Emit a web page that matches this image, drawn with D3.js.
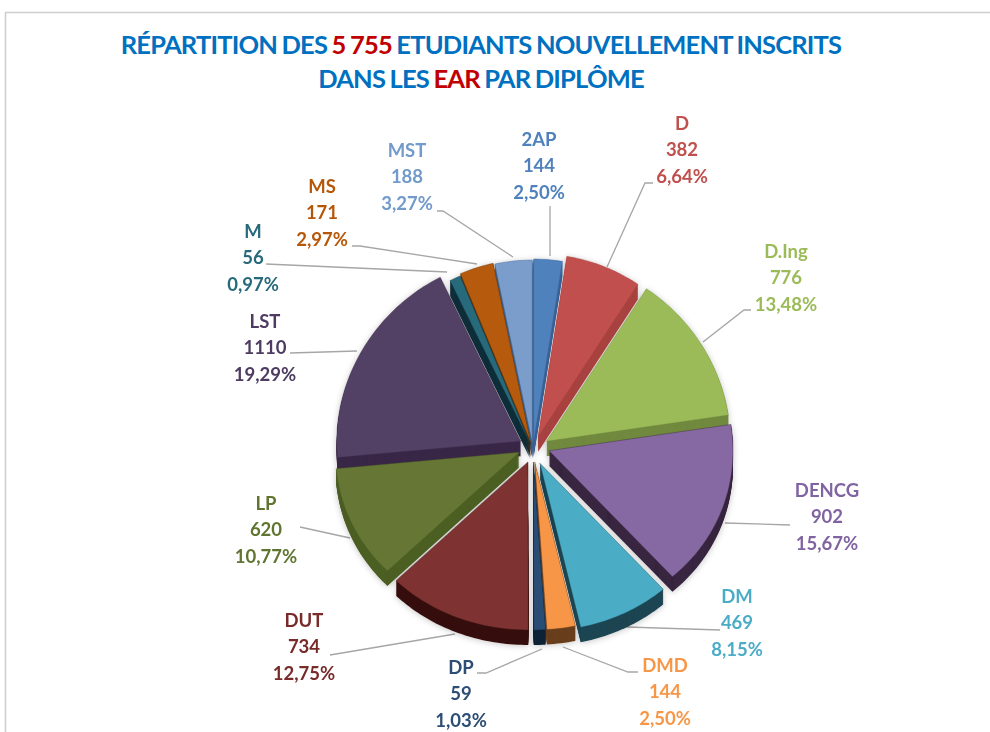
<!DOCTYPE html>
<html><head><meta charset="utf-8">
<script src="https://cdn.jsdelivr.net/npm/d3@7"></script>
<style>html,body{margin:0;padding:0;background:#fff;overflow:hidden}svg{display:block}</style>
</head><body><svg id="c" width="990" height="732"></svg>
<script>
const categories=["2AP","D","D.Ing","DENCG","DM","DMD","DP","DUT","LP","LST","M","MS","MST"];
const counts=[144,382,776,902,469,144,59,734,620,1110,56,171,188];
const percents=["2,50%","6,64%","13,48%","15,67%","8,15%","2,50%","1,03%","12,75%","10,77%","19,29%","0,97%","2,97%","3,27%"];
const faceColors=["#4F81BD","#C0504D","#9BBB59","#8667A3","#4BACC6","#F79646","#2C4D75","#7F3332","#667734","#534065","#276A7C","#B65A10","#7A9DCB"];
const wallColors=["#3A6195","#A8423F","#71893F","#37253F","#1C4552","#683F1D","#0F2236","#36100E","#4C5E22","#3A2747","#0F2E38","#5C3208","#3D5F8B"];
const labelColors=["#4F81BD","#C0504D","#9BBB59","#8064A2","#4BACC6","#F79646","#2C4D75","#772C2A","#5F7530","#4D3B62","#276A7C","#B65708","#729ACA"];
const explosion=[8,14,16,17,15,12,12,13,15,14,6,8,7];
const lift=[0,0,0,5,0,0,0,0,4,2,0,0,0];
const labelCenters=[[539,166],[682,150],[786,278],[827,517],[737,623],[665,692],[461,694],[304,647],[266,530],[265,348],[253,258],[322,213],[407,177]];
const leaders=[
 [[550,206],[550,256]],
 [[653,183],[645,183],[607,267]],
 [[751,310],[744,310],[703,342]],
 [[790,525],[725,523]],
 [[720,630],[627,627]],
 [[638,672],[628,672],[563,647]],
 [[477,673],[486,673],[542,649]],
 [[330,655],[455,634]],
 [[300,527],[350,538]],
 [[290,353],[357,351]],
 [[266,264],[447,272]],
 [[352,246],[360,246],[477,264]],
 [[437,211],[443,211],[513,257]]
];
const cx=533,cy=450,radiusX=184,depth=15;
const svg=d3.select("#c");

const defs=svg.append("defs");
const blur=defs.append("filter").attr("id","soft").attr("x","-10%").attr("y","-10%").attr("width","120%").attr("height","120%");
blur.append("feDropShadow").attr("dx",0).attr("dy",1).attr("stdDeviation",3).attr("flood-color","#000").attr("flood-opacity",0.22);

// frame
svg.append("path").attr("d","M5.5 732V12.5H990").attr("fill","none").attr("stroke","#cfcfcf").attr("stroke-width",1.6);

// title
const title=svg.append("g").attr("font-family","Lato").attr("font-weight",700).attr("font-size",25.5).attr("text-anchor","middle").attr("letter-spacing",-0.8).attr("word-spacing",-1);
const titleLines=[[["RÉPARTITION DES ","#0070C0"],["5 755 ","#C00000"],["ETUDIANTS NOUVELLEMENT INSCRITS","#0070C0"]],[["DANS LES ","#0070C0"],["EAR ","#C00000"],["PAR DIPLÔME","#0070C0"]]];
titleLines.forEach((ln,i)=>{
  const t=title.append("text").attr("x",481).attr("y",[54,88][i]);
  ln.forEach(s=>t.append("tspan").attr("fill",s[1]).text(s[0]));
});

// pie
const pie=d3.pie().sort(null).value(d=>d)(counts);
const project=(a,r)=>{const t=-Math.cos(a)*r;return [Math.sin(a)*r*radiusX,175.5*t-7.5*t*t];};
const line=d3.line();
const slicePath=d=>{
  const n=Math.max(2,Math.ceil((d.endAngle-d.startAngle)/0.02));
  const pts=[[0,0]];
  d3.range(n+1).forEach(i=>pts.push(project(d.startAngle+(d.endAngle-d.startAngle)*i/n,1)));
  return line(pts)+"Z";
};
const offset=d=>{const m=(d.startAngle+d.endAngle)/2,e=explosion[d.index];return [Math.sin(m)*e,-Math.cos(m)*e-lift[d.index]];};
const order=pie.slice().sort((a,b)=>-Math.cos((a.startAngle+a.endAngle)/2)+Math.cos((b.startAngle+b.endAngle)/2));

// leaders
svg.append("g").selectAll("path").data(leaders).join("path")
  .attr("d",d=>line(d)).attr("fill","none").attr("stroke","#a6a6a6").attr("stroke-width",1.3);

const slices=svg.append("g").attr("filter","url(#soft)");
order.forEach(d=>{
  const [ox,oy]=offset(d);
  const g=slices.append("g").attr("transform",`translate(${cx+ox},${cy+oy})`);
  g.selectAll("path.w").data(d3.range(depth,0,-1)).join("path").attr("class","w")
    .attr("d",slicePath(d)).attr("transform",k=>`translate(0,${k})`).attr("fill",wallColors[d.index]);
  g.append("path").attr("d",slicePath(d)).attr("fill",faceColors[d.index])
    .attr("stroke",wallColors[d.index]).attr("stroke-opacity",0.4).attr("stroke-width",1);
});

// labels
const labels=svg.append("g").attr("font-family","Lato").attr("font-weight",700).attr("font-size",18.5).attr("text-anchor","middle");
categories.forEach((c,i)=>{
  [c,String(counts[i]),percents[i]].forEach((s,j)=>{
    labels.append("text").attr("x",labelCenters[i][0]).attr("y",labelCenters[i][1]+(j-1)*26.5).attr("dy","0.35em")
      .attr("fill",labelColors[i]).text(s);
  });
});
</script></body></html>
